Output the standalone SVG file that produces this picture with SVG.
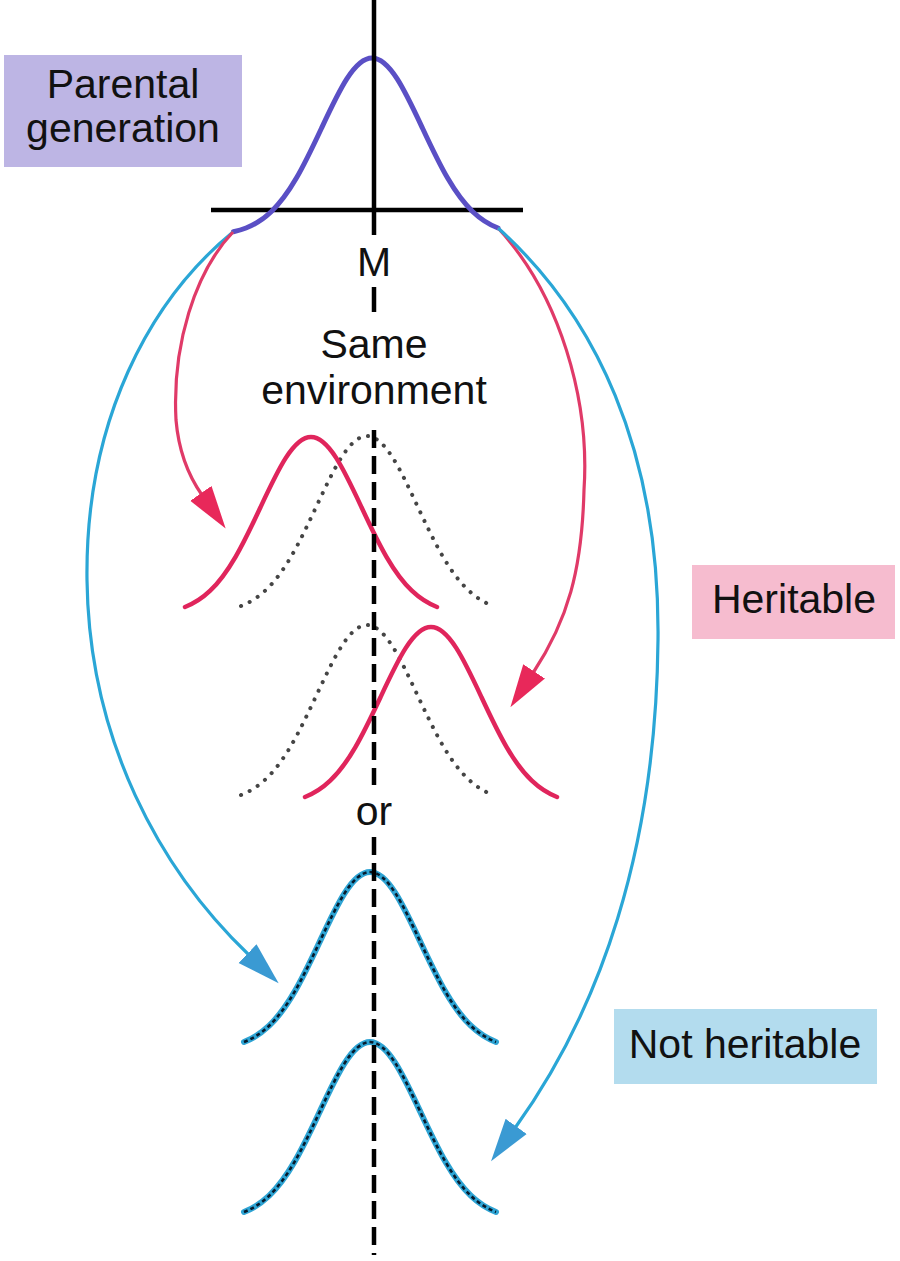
<svg xmlns="http://www.w3.org/2000/svg" xmlns:xlink="http://www.w3.org/1999/xlink" width="900" height="1261" viewBox="0 0 900 1261">
<style>
.lbl{font-family:"Liberation Sans",Arial,Helvetica,sans-serif;font-size:41px;fill:#111;text-anchor:middle}
.red{fill:none;stroke:#e0255c;stroke-width:4.5;stroke-linecap:round}
.dot{fill:none;stroke:#454545;stroke-width:4;stroke-linecap:round;stroke-dasharray:0.1 9.4}
.blue{fill:none;stroke:#2ea4d4;stroke-width:6;stroke-linecap:round}
.bluedash{fill:none;stroke:#061a2c;stroke-width:2.6;stroke-dasharray:4 3}
.axis{stroke:#000;stroke-width:4.5;fill:none}
.arrR{fill:none;stroke:#e03a68;stroke-width:3.2}
.arrB{fill:none;stroke:#2aa6d6;stroke-width:3.2}
</style>
<defs>
<path id="bell" d="M -126,170 C -117.6,166.75 -109.2,161.72 -100.8,153.7 C -92.4,145.68 -84,134.53 -75.6,120.1 C -67.2,105.67 -58.8,87.98 -50.4,70 C -42,52.02 -33.6,33.98 -25.2,20.9 C -16.8,7.82 -8.4,0 0,0 C 8.4,0 16.8,7.82 25.2,20.9 C 33.6,33.98 42,52.02 50.4,70 C 58.8,87.98 67.2,105.67 75.6,120.1 C 84,134.53 92.4,145.68 100.8,153.7 C 109.2,161.72 117.6,166.75 126,170"/>
<marker id="headR" markerUnits="userSpaceOnUse" markerWidth="44" markerHeight="28" viewBox="0 0 44 28" refX="2" refY="14" orient="auto">
<path d="M0,1 L43,14 L0,27 Z" fill="#e8285a"/>
</marker>
<marker id="headB" markerUnits="userSpaceOnUse" markerWidth="44" markerHeight="28" viewBox="0 0 44 28" refX="2" refY="14" orient="auto">
<path d="M0,1 L43,14 L0,27 Z" fill="#3a9ad3"/>
</marker>
</defs>
<rect width="900" height="1261" fill="#fff"/>

<g id="parental-label">
<rect x="4" y="55" width="238" height="112" fill="#bdb5e4"/>
<text class="lbl" x="123" y="98">Parental</text>
<text class="lbl" x="123" y="142">generation</text>
</g>

<g id="heritable-label">
<rect x="692" y="565" width="203" height="74" fill="#f6bccf"/>
<text class="lbl" x="794" y="613">Heritable</text>
</g>

<g id="not-heritable-label">
<rect x="614" y="1009" width="263" height="75" fill="#b3dcee"/>
<text class="lbl" x="745" y="1058">Not heritable</text>
</g>

<g id="horizontal-axis">
<line class="axis" x1="211" y1="210" x2="523" y2="210"/>
</g>

<g id="parental-curve">
<path fill="none" stroke="#5a4fc5" stroke-width="5" stroke-linecap="round" transform="translate(372,58)" d="M -138.6,173.7 C -134.4,172.77 -130.2,171.63 -126,170 C -117.6,166.75 -109.2,161.72 -100.8,153.7 C -92.4,145.68 -84,134.53 -75.6,120.1 C -67.2,105.67 -58.8,87.98 -50.4,70 C -42,52.02 -33.6,33.98 -25.2,20.9 C -16.8,7.82 -8.4,0 0,0 C 8.4,0 16.8,7.82 25.2,20.9 C 33.6,33.98 42,52.02 50.4,70 C 58.8,87.98 67.2,105.67 75.6,120.1 C 84,134.53 92.4,145.68 100.8,153.7 C 109.2,161.72 117.6,166.75 126,170"/>
</g>

<g id="heritable-shift-left">
<use href="#bell" xlink:href="#bell" class="dot" x="367" y="436"/>
<use href="#bell" xlink:href="#bell" class="red" x="311" y="437"/>
</g>

<g id="heritable-shift-right">
<use href="#bell" xlink:href="#bell" class="dot" x="367" y="625"/>
<use href="#bell" xlink:href="#bell" class="red" x="431" y="627"/>
</g>

<g id="not-heritable-1">
<use href="#bell" xlink:href="#bell" class="blue" x="370" y="872"/>
<use href="#bell" xlink:href="#bell" class="bluedash" x="370" y="872"/>
</g>

<g id="not-heritable-2">
<use href="#bell" xlink:href="#bell" class="blue" x="370" y="1042"/>
<use href="#bell" xlink:href="#bell" class="bluedash" x="370" y="1042"/>
</g>

<g id="mean-line">
<line class="axis" x1="374" y1="0" x2="374" y2="235"/>
<line class="axis" x1="374" y1="287" x2="374" y2="312"/>
<line class="axis" x1="374" y1="430" x2="374" y2="785" stroke-dasharray="18 8"/>
<line class="axis" x1="374" y1="837" x2="374" y2="1255" stroke-dasharray="18 8"/>
</g>

<g id="connectors">
<path class="arrB" d="M 233,232 C 150,300 85,420 87,580 C 89,740 160,870 249,955" marker-end="url(#headB)"/>
<path class="arrR" d="M 233,232 C 195,272 172,345 176,420 C 179,455 190,478 202,495" marker-end="url(#headR)"/>
<path class="arrR" d="M 498,228 C 560,295 590,400 584,490 C 582,570 568,620 533,673" marker-end="url(#headR)"/>
<path class="arrB" d="M 498,228 C 595,315 660,450 658,640 C 656,850 600,1010 515,1128" marker-end="url(#headB)"/>
</g>

<g id="texts">
<text class="lbl" x="374" y="276">M</text>
<text class="lbl" x="374" y="358">Same</text>
<text class="lbl" x="374" y="404">environment</text>
<text class="lbl" x="374" y="825">or</text>
</g>
</svg>
